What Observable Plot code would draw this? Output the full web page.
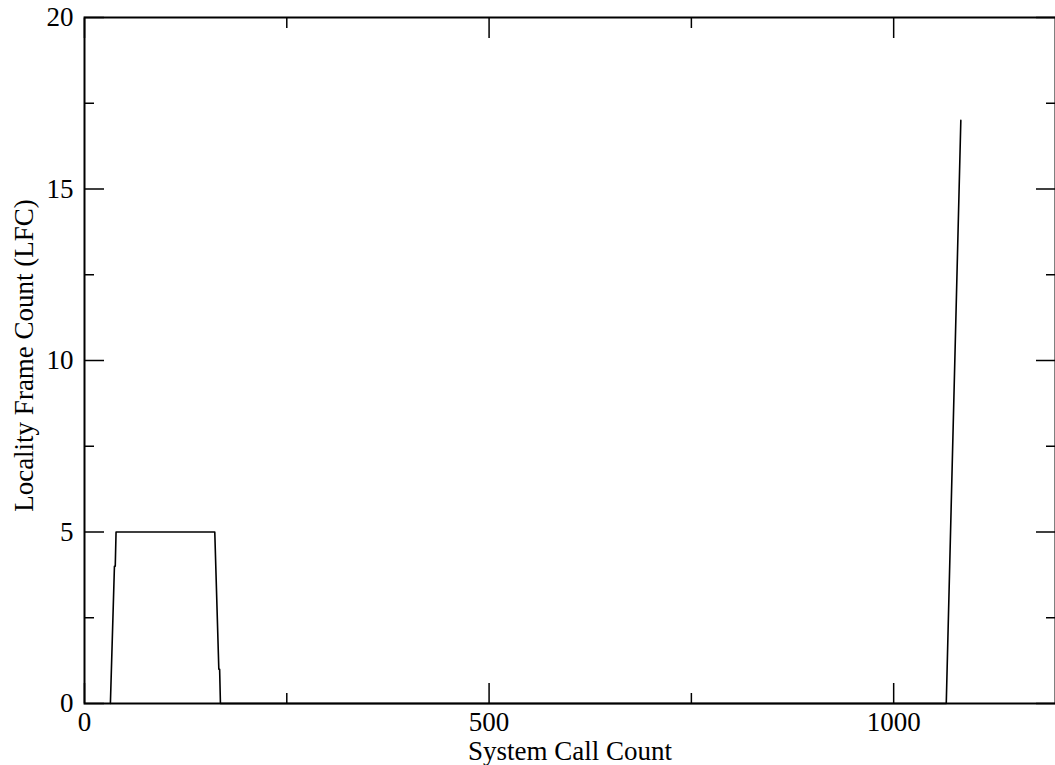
<!DOCTYPE html>
<html>
<head>
<meta charset="utf-8">
<script src="https://cdn.jsdelivr.net/npm/d3@7"></script>
<script src="https://cdn.jsdelivr.net/npm/@observablehq/plot@0.6"></script>
<style>
  html, body { margin: 0; padding: 0; background: #fff; }
  svg { display: block; }
</style>
</head>
<body>
<div id="chart"></div>
<script>
// Data
const callCount = [32, 37, 38, 39, 161, 166, 167, 168, 1065, 1083];
const lfc       = [0,  4,  4,  5,  5,   1,   1,   0,   0,    17];

const xMajor = [0, 500, 1000];
const xMinor = [250, 750];
const yMajor = [0, 5, 10, 15, 20];
const yMinor = [2.5, 7.5, 12.5, 17.5];
const xLabel = "System Call Count";
const yLabel = "Locality Frame Count (LFC)";

const data = callCount.map((x, i) => ({x, y: lfc[i]}));
const font = "Liberation Serif, Times New Roman, serif";

const tickSets = [];
for (const anchor of ["bottom", "top"]) {
  tickSets.push(Plot.axisX(xMajor, {anchor, tickSize: -20, text: null, label: null, stroke: "#000", strokeWidth: 1.5}));
  tickSets.push(Plot.axisX(xMinor, {anchor, tickSize: -10, text: null, label: null, stroke: "#000", strokeWidth: 1.5}));
}
for (const anchor of ["left", "right"]) {
  tickSets.push(Plot.axisY(yMajor, {anchor, tickSize: -20, text: null, label: null, stroke: "#000", strokeWidth: 1.5}));
  tickSets.push(Plot.axisY(yMinor, {anchor, tickSize: -10, text: null, label: null, stroke: "#000", strokeWidth: 1.5}));
}

const chart = Plot.plot({
  width: 1055,
  height: 765,
  marginTop: 17,
  marginBottom: 62,
  marginLeft: 84,
  marginRight: 0,
  style: {fontFamily: font, fontSize: "27px", color: "#000", background: "#fff"},
  x: {domain: [0, 1200]},
  y: {domain: [0, 20]},
  marks: [
    ...tickSets,
    Plot.axisX(xMajor, {anchor: "bottom", tickSize: 0, tickPadding: 8, label: null, tickFormat: d3.format("d"), fontSize: 27, fill: "#000"}),
    Plot.axisY(yMajor, {anchor: "left", tickSize: 0, tickPadding: 11, label: null, tickFormat: d3.format("d"), fontSize: 27, fill: "#000"}),
    Plot.text([xLabel], {frameAnchor: "bottom", textAnchor: "middle", lineAnchor: "bottom", dy: 56, fontSize: 27, fill: "#000"}),
    Plot.text([yLabel], {frameAnchor: "left", textAnchor: "middle", lineAnchor: "middle", rotate: -90, dx: -60, dy: -5, fontSize: 27, fill: "#000"}),
    Plot.line(data, {x: "x", y: "y", stroke: "#000", strokeWidth: 1.6}),
    Plot.frame({stroke: "#000", strokeWidth: 2})
  ]
});
document.getElementById("chart").appendChild(chart);
</script>
</body>
</html>
